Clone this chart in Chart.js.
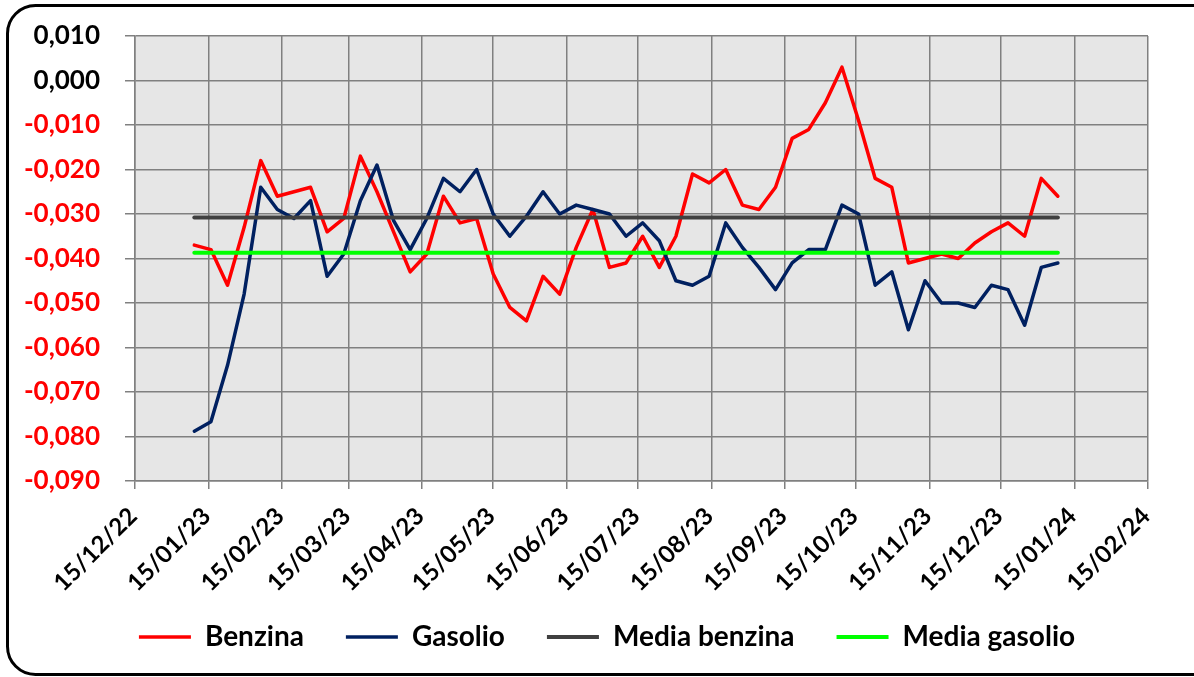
<!DOCTYPE html>
<html>
<head>
<meta charset="utf-8">
<script src="https://cdn.jsdelivr.net/npm/chart.js@4.4.1/dist/chart.umd.min.js"></script>
<style>
  html, body { margin: 0; padding: 0; background: #fff; }
  #wrap { width: 1194px; height: 677px; }
</style>
</head>
<body>
<div id="wrap"><canvas id="chart" width="1194" height="677"></canvas></div>
<script>
// weekly dates (Monday)
const dates = [
  "2023-01-09", "2023-01-16", "2023-01-23", "2023-01-30",
  "2023-02-06", "2023-02-13", "2023-02-20", "2023-02-27",
  "2023-03-06", "2023-03-13", "2023-03-20", "2023-03-27",
  "2023-04-03", "2023-04-10", "2023-04-17", "2023-04-24",
  "2023-05-01", "2023-05-08", "2023-05-15", "2023-05-22", "2023-05-29",
  "2023-06-05", "2023-06-12", "2023-06-19", "2023-06-26",
  "2023-07-03", "2023-07-10", "2023-07-17", "2023-07-24", "2023-07-31",
  "2023-08-07", "2023-08-14", "2023-08-21", "2023-08-28",
  "2023-09-04", "2023-09-11", "2023-09-18", "2023-09-25",
  "2023-10-02", "2023-10-09", "2023-10-16", "2023-10-23", "2023-10-30",
  "2023-11-06", "2023-11-13", "2023-11-20", "2023-11-27",
  "2023-12-04", "2023-12-11", "2023-12-18", "2023-12-25",
  "2024-01-01", "2024-01-08"
];

const benzina = [
  -0.037, -0.038, -0.046, -0.033,
  -0.018, -0.026, -0.025, -0.024,
  -0.034, -0.031, -0.017, -0.025,
  -0.034, -0.043, -0.039, -0.026,
  -0.032, -0.031, -0.0435, -0.051, -0.054,
  -0.044, -0.048, -0.0375, -0.029,
  -0.042, -0.041, -0.035, -0.042, -0.035,
  -0.021, -0.023, -0.020, -0.028,
  -0.029, -0.024, -0.013, -0.011,
  -0.005, 0.003, -0.009, -0.022, -0.024,
  -0.041, -0.040, -0.039, -0.040,
  -0.0365, -0.034, -0.032, -0.035,
  -0.022, -0.026
];

const gasolio = [
  -0.0788, -0.0767, -0.064, -0.048,
  -0.024, -0.029, -0.031, -0.027,
  -0.044, -0.039, -0.027, -0.019,
  -0.0315, -0.038, -0.031, -0.022,
  -0.025, -0.020, -0.030, -0.035, -0.0305,
  -0.025, -0.030, -0.028, -0.029,
  -0.030, -0.035, -0.032, -0.036, -0.045,
  -0.046, -0.044, -0.032, -0.0375,
  -0.042, -0.047, -0.041, -0.038,
  -0.038, -0.028, -0.030, -0.046, -0.043,
  -0.056, -0.045, -0.050, -0.050,
  -0.051, -0.046, -0.047, -0.055,
  -0.042, -0.041
];

const mediaBenzina = [-0.0308, -0.0308];
const mediaGasolio = [-0.0387, -0.0387];

const xTickLabels = [
  "15/12/22", "15/01/23", "15/02/23", "15/03/23", "15/04/23", "15/05/23",
  "15/06/23", "15/07/23", "15/08/23", "15/09/23", "15/10/23", "15/11/23",
  "15/12/23", "15/01/24", "15/02/24"
];
const yTicks = [0.01, 0, -0.01, -0.02, -0.03, -0.04, -0.05, -0.06, -0.07, -0.08, -0.09];

const DAY = 86400000;
const isoToDay = s => Date.parse(s + "T00:00:00Z") / DAY;
const labelToDay = s => {
  const [d, m, y] = s.split("/").map(Number);
  return Date.UTC(2000 + y, m - 1, d) / DAY;
};

const xs = dates.map(isoToDay);
const xTickValues = xTickLabels.map(labelToDay);
const ends = [xs[0], xs[xs.length - 1]];

const pairs = (xv, yv) => yv.map((v, i) => ({ x: xv[i], y: v }));

const FONT = "Lato, 'Noto Sans', sans-serif";
const GRID = "#808080";

// grey plot area + rounded frame, and nudge the legend into place
const frame = {
  id: "frame",
  afterLayout(chart) {
    const lg = chart.legend;
    lg.left += 33; lg.right += 33;
    lg.top -= 12; lg.bottom -= 12;
  },
  beforeDraw(chart) {
    const { ctx, chartArea: a } = chart;
    ctx.save();
    ctx.fillStyle = "#fff";
    ctx.fillRect(0, 0, chart.width, chart.height);
    ctx.fillStyle = "#e6e6e6";
    ctx.fillRect(a.left, a.top, a.right - a.left, a.bottom - a.top);
    ctx.restore();
  },
  afterDraw(chart) {
    const ctx = chart.ctx;
    ctx.save();
    ctx.strokeStyle = "#000";
    ctx.lineWidth = 3;
    ctx.beginPath();
    ctx.roundRect(7.5, 5.5, 1220, 669, 28);
    ctx.stroke();
    ctx.restore();
  }
};

new Chart(document.getElementById("chart"), {
  type: "line",
  data: {
    datasets: [
      { label: "Benzina", data: pairs(xs, benzina), borderColor: "#ff0000", backgroundColor: "#ff0000", borderWidth: 3.5, order: 4 },
      { label: "Gasolio", data: pairs(xs, gasolio), borderColor: "#002060", backgroundColor: "#002060", borderWidth: 3.5, order: 3 },
      { label: "Media benzina", data: pairs(ends, mediaBenzina), borderColor: "#404040", backgroundColor: "#404040", borderWidth: 4, order: 2 },
      { label: "Media gasolio", data: pairs(ends, mediaGasolio), borderColor: "#00ff00", backgroundColor: "#00ff00", borderWidth: 4, order: 1 }
    ]
  },
  options: {
    responsive: false,
    animation: false,
    layout: { padding: { left: 0, right: 46, top: 36, bottom: 4 } },
    elements: {
      point: { radius: 0, hoverRadius: 0 },
      line: { tension: 0, borderJoinStyle: "round", borderCapStyle: "round" }
    },
    scales: {
      x: {
        type: "linear",
        min: xTickValues[0],
        max: xTickValues[xTickValues.length - 1],
        afterBuildTicks: s => { s.ticks = xTickValues.map(v => ({ value: v })); },
        afterFit: s => { s.height = 112; s.paddingLeft = 0; s.paddingRight = 0; },
        ticks: {
          autoSkip: false,
          minRotation: 45,
          maxRotation: 45,
          padding: 13,
          labelOffset: -2,
          color: "#000",
          font: { family: FONT, size: 24, weight: "bold" },
          callback: v => xTickLabels[xTickValues.indexOf(v)]
        },
        grid: { color: GRID, lineWidth: 1.5, tickLength: 8, tickColor: GRID },
        border: { color: GRID, width: 1.5 }
      },
      y: {
        min: -0.09,
        max: 0.01,
        afterBuildTicks: s => { s.ticks = yTicks.map(v => ({ value: v })); },
        afterFit: s => { s.width = 135; s.paddingTop = 0; s.paddingBottom = 0; },
        ticks: {
          padding: 25,
          color: c => (c.tick.value < 0 ? "#ff0000" : "#000"),
          font: { family: FONT, size: 26, weight: "bold" },
          callback: v => v.toFixed(3).replace("-0,000", "0,000").replace(".", ",")
        },
        grid: { color: GRID, lineWidth: 1.5, tickLength: 10, tickColor: GRID },
        border: { color: GRID, width: 1.5 }
      }
    },
    plugins: {
      tooltip: { enabled: false },
      legend: {
        position: "bottom",
        labels: {
          usePointStyle: true,
          pointStyle: "line",
          pointStyleWidth: 52,
          padding: 42,
          color: "#000",
          font: { family: FONT, size: 28, weight: "bold" },
          sort: (a, b) => a.datasetIndex - b.datasetIndex
        }
      }
    }
  },
  plugins: [frame]
});
</script>
</body>
</html>
